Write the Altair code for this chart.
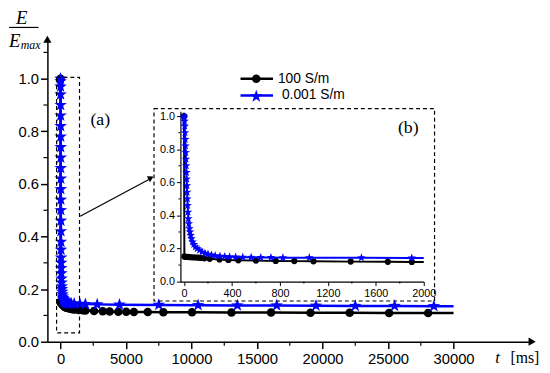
import altair as alt
import pandas as pd

# ---------------- data ----------------
black_t = [0, 3, 10, 20, 35, 50, 70, 90, 115, 140, 170, 214, 296, 370, 453, 600, 765, 920, 1080, 1390,
           1700, 1900, 2000, 2560, 3220, 3750, 4410, 5020, 5600, 6660, 7850, 10040, 13050, 16070, 19080,
           22070, 25080, 28060, 30000]
black_e = [1.0, 0.152, 0.15, 0.15, 0.149, 0.148, 0.147, 0.146, 0.145, 0.143, 0.141, 0.138, 0.134, 0.131,
           0.129, 0.127, 0.125, 0.124, 0.123, 0.121, 0.12, 0.119, 0.119, 0.117, 0.116, 0.115, 0.114, 0.114,
           0.113, 0.113, 0.112, 0.112, 0.111, 0.111, 0.11, 0.11, 0.109, 0.109, 0.109]

blue_t = [0, 2, 4, 6, 8, 10, 12, 14, 16, 18, 20, 22, 24, 26, 28, 30, 33, 36, 40, 45,
          50, 56, 63, 72, 82, 95, 110, 130, 150, 175, 200, 230, 260, 300, 340, 380, 430, 490, 560, 640,
          725, 825, 1045, 1480, 1900, 2000, 2800, 4500, 7500, 10500, 13500, 16500, 19500, 22500, 25500,
          28500, 30000]
blue_e = [1.0, 0.99, 0.97, 0.94, 0.9, 0.86, 0.82, 0.78, 0.74, 0.7, 0.66, 0.62, 0.58, 0.54, 0.5, 0.46,
          0.42, 0.38, 0.35, 0.32, 0.3, 0.28, 0.26, 0.24, 0.225, 0.21, 0.2, 0.19, 0.18, 0.172, 0.166, 0.161,
          0.157, 0.154, 0.152, 0.15, 0.149, 0.148, 0.147, 0.146, 0.146, 0.145, 0.145, 0.144, 0.143, 0.143,
          0.142, 0.141, 0.14, 0.139, 0.138, 0.138, 0.137, 0.136, 0.136, 0.135, 0.135]

line_only_t = [2000, 30000]          # line vertices drawn without a symbol
series_labels = ["100 S/m", "0.001 S/m"]

main_xticks = [0, 5000, 10000, 15000, 20000, 25000, 30000]
main_xminor = [2500, 7500, 12500, 17500, 22500, 27500]
main_yticks = [0.0, 0.2, 0.4, 0.6, 0.8, 1.0]
main_yminor = [0.1, 0.3, 0.5, 0.7, 0.9, 1.1]
inset_xticks = [0, 400, 800, 1200, 1600, 2000]
inset_xminor = [200, 600, 1000, 1400, 1800]
inset_yticks = [0.0, 0.2, 0.4, 0.6, 0.8, 1.0]
inset_yminor = [0.1, 0.3, 0.5, 0.7, 0.9]

# ---------------- layout ----------------
W, H = 492, 307
BLUE = "#0000ff"
SANS = "Liberation Sans"
SERIF = "Liberation Serif"
STAR = ("M0,-1L0.235,-0.324L0.951,-0.309L0.38,0.124L0.588,0.809L0,0.4L-0.588,0.809"
        "L-0.38,0.124L-0.951,-0.309L-0.235,-0.324Z")

black_df = pd.DataFrame({"t": black_t, "E": black_e})
blue_df = pd.DataFrame({"t": blue_t, "E": blue_e})
inset_black = black_df[black_df.t <= 2000]
inset_blue = blue_df[blue_df.t <= 2000]
sym_filter = " && ".join(f"datum.t != {v}" for v in line_only_t)

xs_main = alt.Scale(domain=[-1000, 36000], nice=False, zero=False)
ys_main = alt.Scale(domain=[0, 1.15], nice=False, zero=False)
xs_in = alt.Scale(domain=[-30, 2000], range=[135, 382], nice=False, zero=False)
ys_in = alt.Scale(domain=[0, 1.03], range=[246, 73], nice=False, zero=False)

common_axis = dict(grid=False, domainColor="black", tickColor="black", labelColor="black",
                   labelFlush=False, labelOverlap=False, labelBound=False)
ax_mx = alt.Axis(orient="bottom", values=main_xticks, format="d", tickSize=7, tickWidth=1.5,
                 domainWidth=1.5, labelFontSize=15, labelFont=SANS, labelPadding=3, **common_axis)
ax_my = alt.Axis(orient="left", values=main_yticks, format=".1f", tickSize=7, tickWidth=1.5,
                 domainWidth=1.5, labelFontSize=15, labelFont=SANS, labelPadding=2, **common_axis)
ax_ix = alt.Axis(orient="bottom", offset=-61, values=inset_xticks, format="d", tickSize=4, tickWidth=1,
                 domainWidth=1.2, labelFontSize=11, labelFont=SANS, labelPadding=2, **common_axis)
ax_iy = alt.Axis(orient="left", offset=-135, values=inset_yticks, format=".1f", tickSize=4, tickWidth=1,
                 domainWidth=1.2, labelFontSize=11, labelFont=SANS, labelPadding=2, **common_axis)


def MX(field="t"):
    return alt.X(f"{field}:Q", scale=xs_main, axis=ax_mx, title=None)


def MY(field="E"):
    return alt.Y(f"{field}:Q", scale=ys_main, axis=ax_my, title=None)


def IX(field="t"):
    return alt.X(f"{field}:Q", scale=xs_in, axis=ax_ix, title=None)


def IY(field="E"):
    return alt.Y(f"{field}:Q", scale=ys_in, axis=ax_iy, title=None)


one = pd.DataFrame({"k": [0]})

# ---------------- main plot ----------------
m_black_line = alt.Chart(black_df).mark_line(color="black", strokeWidth=2.5).encode(x=MX(), y=MY())
m_black_pts = alt.Chart(black_df).transform_filter(sym_filter).mark_point(
    shape="circle", filled=True, size=75, color="black", opacity=1).encode(x=MX(), y=MY())
m_blue_line = alt.Chart(blue_df).mark_line(color=BLUE, strokeWidth=2.5).encode(x=MX(), y=MY())
m_blue_pts = alt.Chart(blue_df).transform_filter(sym_filter).mark_point(
    shape=STAR, filled=True, size=180, color=BLUE, opacity=1).encode(x=MX(), y=MY())

xminor = alt.Chart(pd.DataFrame({"t": main_xminor})).mark_rule(color="black", strokeWidth=1.2).encode(
    x=MX(), y=alt.value(H), y2=alt.value(H + 4))
yminor = alt.Chart(pd.DataFrame({"E": main_yminor})).mark_rule(color="black", strokeWidth=1.2).encode(
    y=MY(), x=alt.value(0), x2=alt.value(-4))

# axis arrows
x_arrow = alt.Chart(pd.DataFrame({"t": [36000], "E": [0.0]})).mark_point(
    shape="triangle-right", filled=True, size=70, color="black", opacity=1).encode(x=MX(), y=MY())
y_arrow = alt.Chart(pd.DataFrame({"t": [-1000], "E": [1.15]})).mark_point(
    shape="triangle-up", filled=True, size=70, color="black", opacity=1).encode(x=MX(), y=MY())

# dashed boxes (a) and (b)
box_df = pd.DataFrame({"t": [-300, 7137], "t2": [1450, 28550], "E": [0.034, 0.155], "E2": [1.005, 0.8865]})
boxes = alt.Chart(box_df).mark_rect(fillOpacity=0, stroke="black", strokeWidth=1.2,
                                    strokeDash=[4, 3]).encode(
    x=MX(), x2="t2:Q", y=MY(), y2="E2:Q")

# pointer arrow from (a) to (b)
arrow_df = pd.DataFrame({"t": [1503], "E": [0.477], "t2": [6850], "E2": [0.62]})
pointer = alt.Chart(arrow_df).mark_rule(color="black", strokeWidth=1.2).encode(
    x=MX(), y=MY(), x2="t2:Q", y2="E2:Q")
pointer_head = alt.Chart(pd.DataFrame({"t": [6900], "E": [0.623]})).mark_point(
    shape="triangle-right", filled=True, size=45, color="black", angle=331, opacity=1).encode(x=MX(), y=MY())

# panel labels
lab_df = pd.DataFrame({"t": [3030, 26540], "E": [0.843, 0.813], "lab": ["(a)", "(b)"]})
labels = alt.Chart(lab_df).mark_text(font=SERIF, fontSize=18, color="black").encode(
    x=MX(), y=MY(), text="lab:N")

# legend (manual, pixel placed)
leg_l1 = alt.Chart(one).mark_rule(strokeWidth=2.5, color="black").encode(
    x=alt.value(196), x2=alt.value(229), y=alt.value(40))
leg_l2 = alt.Chart(one).mark_rule(strokeWidth=2.5, color=BLUE).encode(
    x=alt.value(196), x2=alt.value(229), y=alt.value(57))
leg_c = alt.Chart(one).mark_point(shape="circle", filled=True, size=75, color="black", opacity=1).encode(
    x=alt.value(212), y=alt.value(40))
leg_s = alt.Chart(one).mark_point(shape=STAR, filled=True, size=180, color=BLUE, opacity=1).encode(
    x=alt.value(212), y=alt.value(58))
leg_t1 = alt.Chart(one).mark_text(text=series_labels[0], align="left", baseline="middle", font=SANS,
                                  fontSize=14, color="black").encode(x=alt.value(234), y=alt.value(40))
leg_t2 = alt.Chart(one).mark_text(text=series_labels[1], align="left", baseline="middle", font=SANS,
                                  fontSize=14, color="black").encode(x=alt.value(238), y=alt.value(57))

# axis titles
t_E = alt.Chart(one).mark_text(text="E", font=SERIF, fontStyle="italic", fontSize=19, color="black",
                               align="center", baseline="alphabetic").encode(x=alt.value(-26), y=alt.value(-15))
frac = alt.Chart(one).mark_rule(color="black", strokeWidth=1.2).encode(
    x=alt.value(-39), x2=alt.value(-9), y=alt.value(-12))
t_E2 = alt.Chart(one).mark_text(text="E", font=SERIF, fontStyle="italic", fontSize=19, color="black",
                                align="left", baseline="alphabetic").encode(x=alt.value(-39), y=alt.value(8))
t_max = alt.Chart(one).mark_text(text="max", font=SERIF, fontStyle="italic", fontSize=12, color="black",
                                 align="left", baseline="alphabetic").encode(x=alt.value(-27), y=alt.value(10))
t_t = alt.Chart(one).mark_text(text="t", font=SERIF, fontStyle="italic", fontSize=17, color="black",
                               align="center", baseline="alphabetic").encode(x=alt.value(457), y=alt.value(329))
t_ms = alt.Chart(one).mark_text(text="[ms]", font=SERIF, fontSize=16, color="black",
                                align="left", baseline="alphabetic").encode(x=alt.value(470), y=alt.value(329))

main = alt.layer(m_black_line, m_black_pts, m_blue_line, m_blue_pts, xminor, yminor, x_arrow, y_arrow,
                 boxes, pointer, pointer_head, labels, leg_l1, leg_l2, leg_c, leg_s, leg_t1, leg_t2,
                 t_E, frac, t_E2, t_max, t_t, t_ms)

# ---------------- inset ----------------
i_black_line = alt.Chart(inset_black).mark_line(color="black", strokeWidth=2).encode(x=IX(), y=IY())
i_black_pts = alt.Chart(inset_black).transform_filter(sym_filter).mark_point(
    shape="circle", filled=True, size=40, color="black", opacity=1).encode(x=IX(), y=IY())
i_blue_line = alt.Chart(inset_blue).mark_line(color=BLUE, strokeWidth=2).encode(x=IX(), y=IY())
i_blue_pts = alt.Chart(inset_blue).transform_filter(sym_filter).mark_point(
    shape=STAR, filled=True, size=85, color=BLUE, opacity=1).encode(x=IX(), y=IY())
i_xminor = alt.Chart(pd.DataFrame({"t": inset_xminor})).mark_rule(color="black", strokeWidth=1).encode(
    x=IX(), y=alt.value(246), y2=alt.value(248))
i_yminor = alt.Chart(pd.DataFrame({"E": inset_yminor})).mark_rule(color="black", strokeWidth=1).encode(
    y=IY(), x=alt.value(135), x2=alt.value(133))

inset = alt.layer(i_black_line, i_black_pts, i_blue_line, i_blue_pts, i_xminor, i_yminor)

chart = alt.layer(main, inset).resolve_scale(x="independent", y="independent").properties(
    width=W, height=H,
    padding={"left": 40, "top": 29, "right": 10, "bottom": 29},
    autosize=alt.AutoSizeParams(type="none"),
    background="white",
).configure_view(stroke=None)

chart.save("out.html", embed_options={"renderer": "svg", "actions": False})
